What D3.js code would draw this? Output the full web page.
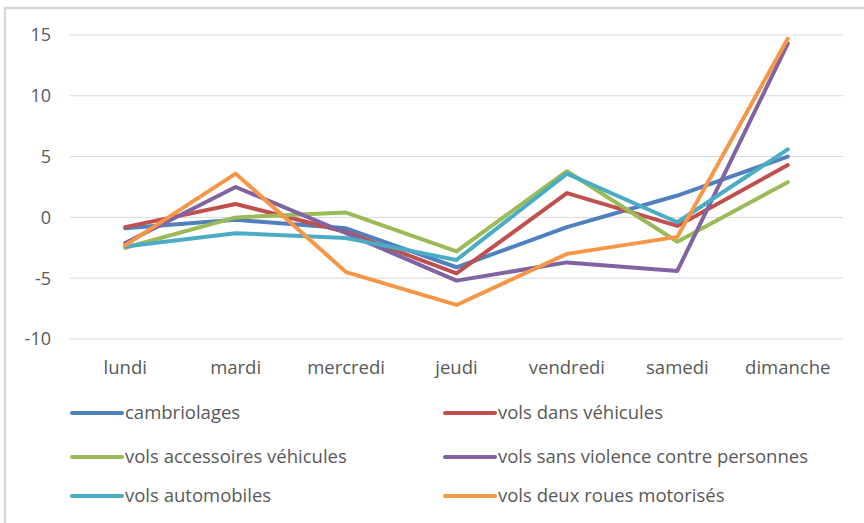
<!DOCTYPE html>
<html>
<head>
<meta charset="utf-8">
<script src="https://cdn.jsdelivr.net/npm/d3@7"></script>
<style>
  body { margin: 0; background: #fff; }
  svg text { font-family: "Open Sans", sans-serif; fill: #595959; }
</style>
</head>
<body>
<div id="chart"></div>
<script>
(() => {

  let days = ["lundi", "mardi", "mercredi", "jeudi", "vendredi", "samedi", "dimanche"]
  let yTicks = [-10, -5, 0, 5, 10, 15]

  let seriesNames = [
    "cambriolages",
    "vols dans véhicules",
    "vols accessoires véhicules",
    "vols sans violence contre personnes",
    "vols automobiles",
    "vols deux roues motorisés"
  ]
  let colors = ["#4f81bd", "#c0504d", "#9bbb59", "#8064a2", "#4bacc6", "#f79646"]

  let cambriolages = [-0.9, -0.2, -0.9, -4.1, -0.8, 1.8, 5.0]
  let volsDansVehicules = [-0.8, 1.1, -1.2, -4.6, 2.0, -0.7, 4.3]
  let volsAccessoires = [-2.5, 0.0, 0.4, -2.8, 3.8, -2.0, 2.9]
  let volsSansViolence = [-2.1, 2.5, -1.3, -5.2, -3.7, -4.4, 14.3]
  let volsAutomobiles = [-2.4, -1.3, -1.7, -3.5, 3.6, -0.4, 5.6]
  let volsDeuxRoues = [-2.3, 3.6, -4.5, -7.2, -3.0, -1.6, 14.7]

  let values = [cambriolages, volsDansVehicules, volsAccessoires, volsSansViolence, volsAutomobiles, volsDeuxRoues]

  let svg = d3.select("#chart")
  .append("svg")
  .attr("width", 864)
  .attr("height", 523)

  // chart frame
  svg.append("rect")
  .attr("x", 5)
  .attr("y", 8)
  .attr("width", 880)
  .attr("height", 530)
  .attr("fill", "none")
  .attr("stroke", "#d9d9d9")
  .attr("stroke-width", 2.5)

  let x = d3.scalePoint()
  .domain(days)
  .range([70, 843])
  .padding(0.5)

  let y = d3.scaleLinear()
  .domain([-10, 15])
  .range([339, 35])

  // grid
  svg.append("g")
  .selectAll("line")
  .data(yTicks)
  .enter()
  .append("line")
  .attr("x1", 70)
  .attr("x2", 843)
  .attr("y1", d => y(d))
  .attr("y2", d => y(d))
  .attr("stroke", "#d9d9d9")
  .attr("stroke-width", 1)

  // y labels
  svg.append("g")
  .selectAll("text")
  .data(yTicks)
  .enter()
  .append("text")
  .attr("x", 51)
  .attr("y", d => y(d))
  .attr("dy", "0.35em")
  .style("text-anchor", "end")
  .style("font-size", "18px")
  .text(d => d)

  // x labels
  svg.append("g")
  .selectAll("text")
  .data(days)
  .enter()
  .append("text")
  .attr("x", d => x(d))
  .attr("y", 368)
  .attr("dy", "0.35em")
  .style("text-anchor", "middle")
  .style("font-size", "18.5px")
  .text(d => d)

  // lines
  let line = d3.line()
  .x((d, i) => x(days[i]))
  .y(d => y(d))

  svg.append("g")
  .selectAll("path")
  .data(values)
  .enter()
  .append("path")
  .attr("d", d => line(d))
  .attr("fill", "none")
  .attr("stroke", (d, i) => colors[i])
  .attr("stroke-width", 4)
  .attr("stroke-linejoin", "round")
  .attr("stroke-linecap", "round")

  // legend
  let legend = svg.append("g")
  .selectAll("g")
  .data(seriesNames)
  .enter()
  .append("g")
  .attr("transform", (d, i) => "translate(" + (i % 2 ? 445 : 72) + "," + [413, 457, 496][Math.floor(i / 2)] + ")")

  legend.append("line")
  .attr("x1", 0)
  .attr("x2", 50)
  .attr("stroke", (d, i) => colors[i])
  .attr("stroke-width", 4)
  .attr("stroke-linecap", "round")

  legend.append("text")
  .attr("x", 53)
  .attr("dy", "0.35em")
  .style("font-size", "18.5px")
  .text(d => d)

})()
</script>
</body>
</html>
